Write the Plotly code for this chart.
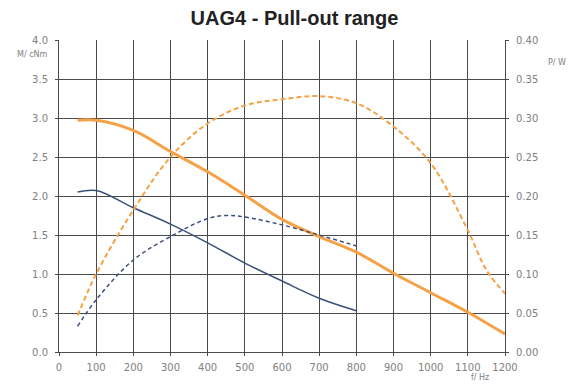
import plotly.graph_objects as go

# Frequencies (Hz) and values
f_orange_torque = [50, 100, 200, 300, 400, 500, 600, 700, 800, 900, 1000, 1100, 1200]
orange_torque = [2.97, 2.97, 2.84, 2.57, 2.31, 2.01, 1.70, 1.48, 1.28, 1.01, 0.76, 0.51, 0.23]

f_orange_power = [50, 100, 200, 300, 400, 500, 600, 700, 800, 900, 1000, 1100, 1150, 1200]
orange_power = [0.047, 0.100, 0.182, 0.250, 0.293, 0.316, 0.324, 0.328, 0.319, 0.289, 0.242, 0.156, 0.105, 0.075]

f_blue_torque = [50, 100, 200, 300, 400, 500, 600, 700, 800]
blue_torque = [2.05, 2.07, 1.85, 1.64, 1.40, 1.14, 0.91, 0.69, 0.53]

f_blue_power = [50, 100, 200, 300, 400, 450, 500, 600, 700, 800]
blue_power = [0.033, 0.067, 0.118, 0.148, 0.171, 0.175, 0.173, 0.163, 0.150, 0.136]

x_ticks = [0, 100, 200, 300, 400, 500, 600, 700, 800, 900, 1000, 1100, 1200]
left_ticks = [0.0, 0.5, 1.0, 1.5, 2.0, 2.5, 3.0, 3.5, 4.0]
right_ticks = [0.0, 0.05, 0.10, 0.15, 0.20, 0.25, 0.30, 0.35, 0.40]

ORANGE = "#f4a245"
BLUE = "#3d4f7c"
GRID = "#4a4a4a"
FONT = "DejaVu Sans, Liberation Sans, Arial, sans-serif"

fig = go.Figure()
fig.add_trace(go.Scatter(x=f_orange_torque, y=orange_torque, mode="lines",
                         line=dict(color=ORANGE, width=3, shape="spline"), yaxis="y"))
fig.add_trace(go.Scatter(x=f_orange_power, y=orange_power, mode="lines",
                         line=dict(color=ORANGE, width=2, dash="5px,3px", shape="spline"), yaxis="y2"))
fig.add_trace(go.Scatter(x=f_blue_torque, y=blue_torque, mode="lines",
                         line=dict(color=BLUE, width=1.5, shape="spline"), yaxis="y"))
fig.add_trace(go.Scatter(x=f_blue_power, y=blue_power, mode="lines",
                         line=dict(color=BLUE, width=1.5, dash="4px,3px", shape="spline"), yaxis="y2"))

tickfont = dict(family=FONT, size=10, color="#808080")

fig.update_layout(
    width=573, height=376,
    margin=dict(l=51, r=76, t=32, b=32, autoexpand=False),
    paper_bgcolor="white", plot_bgcolor="white",
    showlegend=False,
    title=dict(text="<b>UAG4 - Pull-out range</b>", x=0.5, xanchor="center", y=0.973, yanchor="middle",
               font=dict(family="Liberation Sans, Arial, sans-serif", size=20, color="#222")),
    xaxis=dict(range=[0, 1200], tickvals=x_ticks, ticktext=[str(v) for v in x_ticks],
               showgrid=True, gridcolor=GRID, gridwidth=1.2, zeroline=False,
               showline=True, linecolor=GRID, ticks="outside", ticklen=3, tickcolor=GRID,
               ticklabelstandoff=3, tickfont=tickfont),
    yaxis=dict(range=[0, 4.0], tickvals=left_ticks, ticktext=[f"{v:.1f}" for v in left_ticks],
               showgrid=True, gridcolor=GRID, gridwidth=1.2, zeroline=False,
               showline=True, linecolor=GRID, ticks="outside", ticklen=3, tickcolor=GRID,
               ticklabelstandoff=5, tickfont=tickfont),
    yaxis2=dict(range=[0, 0.40], tickvals=right_ticks, ticktext=[f"{v:.2f}" for v in right_ticks],
                overlaying="y", side="right", showgrid=False, zeroline=False,
                showline=True, linecolor=GRID, ticks="outside", ticklen=3, tickcolor=GRID,
                ticklabelstandoff=5, tickfont=tickfont),
    annotations=[
        dict(text="M/ cNm", xref="paper", yref="paper", x=-0.0605, y=0.952, xanchor="center", yanchor="middle",
             showarrow=False, font=dict(family=FONT, size=8, color="#808080")),
        dict(text="P/ W", xref="paper", yref="paper", x=1.117, y=0.929, xanchor="center", yanchor="middle",
             showarrow=False, font=dict(family=FONT, size=8, color="#808080")),
        dict(text="f/ Hz", xref="paper", yref="paper", x=0.944, y=-0.083, xanchor="center", yanchor="middle",
             showarrow=False, font=dict(family=FONT, size=8, color="#808080")),
    ],
)

fig.write_html("out.html")
